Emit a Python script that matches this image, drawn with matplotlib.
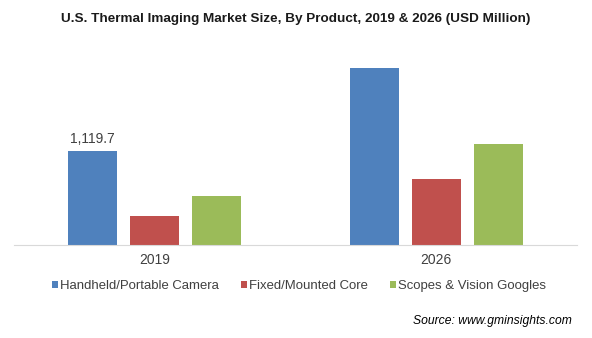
import matplotlib
matplotlib.use("Agg")
import matplotlib.pyplot as plt
from matplotlib import font_manager
import numpy as np

# データ
years = ["2019", "2026"]
products = ["Handheld/Portable Camera", "Fixed/Mounted Core", "Scopes & Vision Googles"]
handheld = [1119.7, 2101]
fixed = [348, 783]
scopes = [582, 1199]
colors = ["#4f81bd", "#c0504d", "#9bbb59"]

plt.rcParams['font.family'] = ['Liberation Sans', 'DejaVu Sans']

# タイトル用の細いフォント（あれば）
names = {f.name for f in font_manager.fontManager.ttflist}
if "Liberation Sans Narrow" in names:
    title_family, title_size = ["Liberation Sans Narrow", "Liberation Sans"], 11.5
else:
    title_family, title_size = ["Liberation Sans", "DejaVu Sans"], 9.7

fig = plt.figure(figsize=(5.92, 3.38), dpi=100)
ax = fig.add_axes([14 / 592, 1 - 245 / 338, 563 / 592, 205 / 338])

x = np.arange(len(years))
w = 0.174
step = 0.221
for i, (vals, name) in enumerate(zip([handheld, fixed, scopes], products)):
    ax.bar(x + (i - 1) * step, vals, width=w, color=colors[i], label=name)

ax.text(x[0] - step, handheld[0] + 60, "{:,.1f}".format(handheld[0]),
        ha="center", va="bottom", fontsize=10, color="#404040")

ax.set_xlim(-0.5, 1.5)
ax.set_ylim(0, 2433)
ax.set_yticks([])
ax.set_xticks(x)
ax.set_xticklabels(years, fontsize=10, color="#404040")
ax.tick_params(axis="x", length=0, pad=6)
for s in ["top", "right", "left"]:
    ax.spines[s].set_visible(False)
ax.spines["bottom"].set_color("#d9d9d9")

fig.text(0.5, 1 - 19 / 338, "U.S. Thermal Imaging Market Size, By Product, 2019 & 2026 (USD Million)",
         ha="center", va="center", fontsize=title_size, fontweight="bold",
         family=title_family, color="#1a1a1a")

fig.legend(loc="center", bbox_to_anchor=(0.505, 1 - 286 / 338), ncol=3, frameon=False,
           fontsize=9.45, handlelength=0.45, handleheight=0.45, handletextpad=0.15,
           columnspacing=1.68, labelcolor="#404040")

fig.text(572 / 592, 1 - 321 / 338, "Source: www.gminsights.com", ha="right", va="center",
         fontsize=8.7, style="italic", color="#000000")

plt.savefig("out.png", dpi=100)
plt.close()
